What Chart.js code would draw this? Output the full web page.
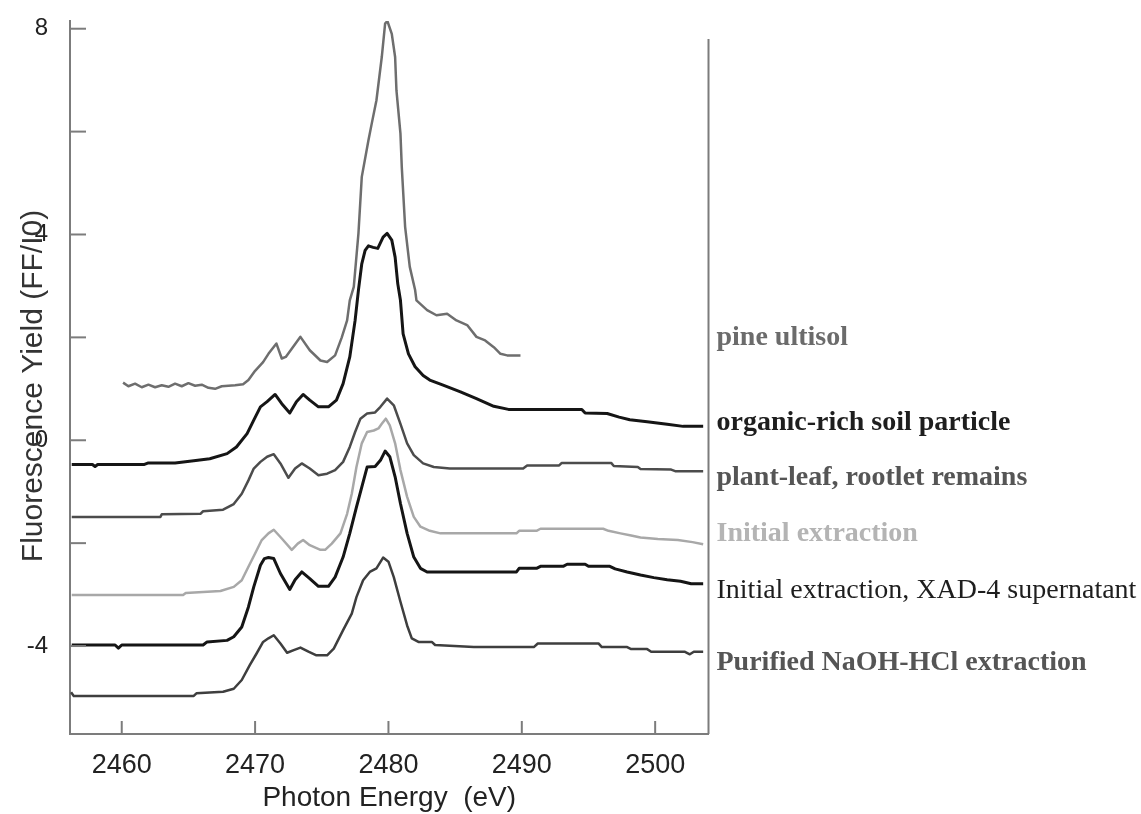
<!DOCTYPE html>
<html>
<head>
<meta charset="utf-8">
<script src="https://cdn.jsdelivr.net/npm/chart.js@4.4.1/dist/chart.umd.min.js"></script>
<style>
  body { margin: 0; background: #ffffff; overflow: hidden; }
  canvas { display: block; }
</style>
</head>
<body>
<canvas id="grafico" width="1141" height="814"></canvas>
<script>
// S K-edge XANES spectra, stacked
const seriesNames = [
  'pine ultisol',
  'organic-rich soil particle',
  'plant-leaf, rootlet remains',
  'Initial extraction',
  'Initial extraction, XAD-4 supernatant',
  'Purified NaOH-HCl extraction'
];

const pineE = [2460.1, 2460.5, 2461.0, 2461.5, 2462.0, 2462.5, 2463.0, 2463.5, 2464.0, 2464.5, 2465.0, 2465.5, 2466.0, 2466.5, 2467.0, 2467.5, 2468.0, 2468.5, 2469.1, 2469.5, 2470.0, 2470.6, 2471.0, 2471.6, 2472.0, 2472.3, 2473.4, 2474.1, 2474.9, 2475.4, 2476.0, 2476.5, 2476.9, 2477.1, 2477.4, 2477.75, 2478.0, 2478.5, 2478.75, 2479.1, 2479.5, 2479.75, 2479.92, 2480.25, 2480.5, 2480.6, 2480.9, 2481.0, 2481.25, 2481.6, 2482.0, 2482.1, 2482.9, 2483.6, 2484.4, 2485.1, 2485.9, 2486.6, 2487.25, 2487.9, 2488.4, 2488.9, 2489.9];
const pineY = [1.12, 1.05, 1.10, 1.03, 1.08, 1.03, 1.07, 1.04, 1.10, 1.05, 1.11, 1.06, 1.08, 1.02, 1.00, 1.05, 1.06, 1.07, 1.09, 1.17, 1.35, 1.52, 1.68, 1.88, 1.59, 1.62, 2.01, 1.75, 1.55, 1.52, 1.65, 2.00, 2.33, 2.72, 2.98, 4.02, 5.12, 5.83, 6.16, 6.61, 7.45, 8.10, 8.15, 7.90, 7.45, 6.80, 5.96, 5.31, 4.15, 3.37, 2.92, 2.72, 2.53, 2.43, 2.46, 2.33, 2.24, 2.01, 1.94, 1.81, 1.68, 1.65, 1.65];

const organicE = [2456.25, 2457.8, 2458.0, 2458.2, 2461.7, 2462.0, 2464.0, 2465.4, 2466.6, 2467.9, 2468.6, 2469.4, 2469.9, 2470.4, 2470.9, 2471.5, 2472.0, 2472.6, 2473.1, 2473.6, 2474.1, 2474.75, 2475.5, 2476.1, 2476.6, 2477.1, 2477.5, 2477.75, 2478.0, 2478.25, 2478.5, 2478.85, 2479.2, 2479.6, 2479.9, 2480.25, 2480.5, 2480.7, 2480.9, 2481.1, 2481.5, 2482.0, 2482.6, 2483.1, 2484.1, 2485.4, 2486.6, 2487.9, 2489.0, 2494.5, 2494.75, 2496.4, 2497.3, 2498.1, 2499.4, 2500.9, 2502.1, 2503.6];
const organicY = [-0.47, -0.47, -0.51, -0.47, -0.47, -0.44, -0.44, -0.40, -0.36, -0.26, -0.13, 0.13, 0.39, 0.65, 0.75, 0.89, 0.71, 0.53, 0.75, 0.89, 0.78, 0.65, 0.65, 0.78, 1.10, 1.62, 2.33, 2.92, 3.43, 3.69, 3.78, 3.75, 3.73, 3.95, 4.02, 3.89, 3.56, 3.04, 2.72, 2.07, 1.68, 1.43, 1.26, 1.17, 1.07, 0.94, 0.81, 0.66, 0.60, 0.60, 0.53, 0.52, 0.45, 0.40, 0.36, 0.31, 0.27, 0.27];

const plantE = [2456.25, 2462.9, 2463.0, 2465.9, 2466.1, 2467.6, 2468.4, 2469.0, 2469.5, 2469.9, 2470.4, 2470.9, 2471.4, 2471.9, 2472.5, 2473.0, 2473.5, 2474.1, 2474.75, 2475.4, 2476.0, 2476.6, 2477.1, 2477.5, 2477.9, 2478.4, 2479.0, 2479.4, 2479.9, 2480.4, 2480.9, 2481.4, 2481.9, 2482.6, 2483.4, 2484.6, 2490.1, 2490.4, 2492.8, 2493.0, 2496.7, 2496.9, 2498.7, 2498.9, 2501.2, 2501.5, 2503.6];
const plantY = [-1.49, -1.49, -1.44, -1.43, -1.38, -1.35, -1.24, -1.04, -0.78, -0.55, -0.42, -0.32, -0.27, -0.45, -0.73, -0.55, -0.45, -0.55, -0.68, -0.65, -0.58, -0.42, -0.13, 0.16, 0.42, 0.52, 0.54, 0.65, 0.81, 0.68, 0.32, -0.06, -0.29, -0.45, -0.52, -0.55, -0.55, -0.49, -0.49, -0.44, -0.44, -0.50, -0.52, -0.56, -0.57, -0.60, -0.60];

const initialE = [2456.25, 2464.6, 2464.8, 2467.4, 2468.4, 2469.0, 2469.5, 2470.0, 2470.5, 2471.0, 2471.4, 2472.0, 2472.75, 2473.2, 2473.6, 2474.1, 2474.9, 2475.25, 2475.75, 2476.4, 2476.9, 2477.25, 2477.6, 2478.0, 2478.4, 2478.9, 2479.25, 2479.5, 2479.8, 2480.1, 2480.5, 2480.9, 2481.4, 2481.9, 2482.4, 2483.1, 2483.9, 2489.6, 2489.8, 2491.1, 2491.4, 2496.1, 2496.5, 2497.4, 2498.2, 2498.9, 2500.2, 2501.7, 2502.8, 2503.6];
const initialY = [-3.01, -3.01, -2.97, -2.93, -2.85, -2.72, -2.46, -2.20, -1.94, -1.81, -1.74, -1.91, -2.13, -2.01, -1.94, -2.04, -2.13, -2.13, -2.01, -1.81, -1.43, -1.04, -0.52, -0.06, 0.16, 0.19, 0.23, 0.32, 0.42, 0.29, -0.06, -0.58, -1.10, -1.49, -1.68, -1.76, -1.81, -1.81, -1.76, -1.76, -1.72, -1.72, -1.76, -1.81, -1.85, -1.89, -1.92, -1.94, -1.98, -2.02];

const xadE = [2456.25, 2459.5, 2459.75, 2460.0, 2466.1, 2466.4, 2467.9, 2468.4, 2469.0, 2469.5, 2469.9, 2470.4, 2470.7, 2471.0, 2471.4, 2471.9, 2472.6, 2473.0, 2473.5, 2474.1, 2474.75, 2475.5, 2476.0, 2476.6, 2477.1, 2477.6, 2478.0, 2478.4, 2479.0, 2479.4, 2479.75, 2480.1, 2480.5, 2480.9, 2481.4, 2481.9, 2482.4, 2482.9, 2489.6, 2489.8, 2491.1, 2491.4, 2493.1, 2493.4, 2494.75, 2495.0, 2496.6, 2497.0, 2497.9, 2498.9, 2499.9, 2500.9, 2501.9, 2502.7, 2503.6];
const xadY = [-3.98, -3.98, -4.04, -3.98, -3.98, -3.92, -3.89, -3.82, -3.63, -3.24, -2.85, -2.43, -2.30, -2.28, -2.30, -2.59, -2.90, -2.71, -2.56, -2.69, -2.84, -2.84, -2.66, -2.27, -1.81, -1.30, -0.91, -0.52, -0.51, -0.39, -0.21, -0.32, -0.71, -1.23, -1.81, -2.27, -2.49, -2.56, -2.56, -2.49, -2.49, -2.45, -2.45, -2.41, -2.41, -2.45, -2.45, -2.50, -2.56, -2.62, -2.67, -2.71, -2.74, -2.79, -2.79];

const purifiedE = [2456.2, 2456.4, 2465.4, 2465.6, 2467.6, 2468.4, 2469.0, 2469.6, 2470.1, 2470.6, 2471.0, 2471.4, 2471.9, 2472.4, 2472.9, 2473.4, 2474.0, 2474.6, 2475.4, 2475.9, 2476.6, 2477.25, 2477.6, 2478.1, 2478.6, 2479.1, 2479.6, 2480.0, 2480.4, 2480.9, 2481.4, 2481.75, 2482.25, 2483.25, 2483.5, 2486.4, 2490.9, 2491.2, 2495.75, 2496.0, 2497.9, 2498.2, 2499.4, 2499.7, 2502.2, 2502.6, 2502.9, 2503.6];
const purifiedY = [-4.90, -4.97, -4.97, -4.92, -4.89, -4.83, -4.66, -4.37, -4.15, -3.92, -3.85, -3.79, -3.95, -4.13, -4.08, -4.03, -4.11, -4.18, -4.18, -4.05, -3.69, -3.37, -3.05, -2.72, -2.56, -2.49, -2.28, -2.36, -2.66, -3.14, -3.60, -3.85, -3.92, -3.92, -3.98, -4.02, -4.02, -3.95, -3.95, -4.02, -4.02, -4.06, -4.06, -4.11, -4.11, -4.16, -4.11, -4.11];

const xTicks = [2460, 2470, 2480, 2490, 2500];
const yTicks = [-4, -2, 0, 2, 4, 6, 8];
const yTickLabels = [8, 4, 0, -4];

// look of each curve and where its name sits (y in axis units)
const seriesStyle = [
  { color: '#6e6e6e', width: 2.5, text: '#6b6b6b', bold: true,  labelAt: 1.86 },
  { color: '#151515', width: 3,   text: '#1e1e1e', bold: true,  labelAt: 0.19 },
  { color: '#4c4c4c', width: 2.5, text: '#555555', bold: true,  labelAt: -0.87 },
  { color: '#a8a8a8', width: 2.5, text: '#b4b4b4', bold: true,  labelAt: -1.96 },
  { color: '#151515', width: 3,   text: '#1e1e1e', bold: false, labelAt: -3.07 },
  { color: '#3e3e3e', width: 2.5, text: '#555555', bold: true,  labelAt: -4.47 }
];

const axisColor = '#7c7c7c';
const seriesData = [[pineE, pineY], [organicE, organicY], [plantE, plantY], [initialE, initialY], [xadE, xadY], [purifiedE, purifiedY]];

const datasets = seriesData.map(([e, v], i) => ({
  label: seriesNames[i],
  data: e.map((x, k) => ({ x: x, y: v[k] })),
  borderColor: seriesStyle[i].color,
  borderWidth: seriesStyle[i].width,
  borderJoinStyle: 'round',
  pointRadius: 0,
  tension: 0,
  fill: false
}));

// inward ticks, right frame line, y title and the curve names
const extras = {
  id: 'extras',
  afterDraw(chart) {
    const { ctx, chartArea, scales } = chart;
    ctx.save();
    ctx.strokeStyle = axisColor;
    ctx.lineWidth = 2;

    ctx.beginPath();
    ctx.moveTo(chartArea.right, scales.y.getPixelForValue(7.8));
    ctx.lineTo(chartArea.right, chartArea.bottom);
    ctx.stroke();

    scales.y.ticks.forEach(t => {
      const py = scales.y.getPixelForValue(t.value);
      ctx.beginPath();
      ctx.moveTo(chartArea.left, py);
      ctx.lineTo(chartArea.left + 16, py);
      ctx.stroke();
    });
    scales.x.ticks.forEach(t => {
      const px = scales.x.getPixelForValue(t.value);
      ctx.beginPath();
      ctx.moveTo(px, chartArea.bottom);
      ctx.lineTo(px, chartArea.bottom - 13);
      ctx.stroke();
    });

    ctx.save();
    ctx.translate(42, 386);
    ctx.rotate(-Math.PI / 2);
    ctx.font = '30px "Liberation Sans", Arial, sans-serif';
    ctx.fillStyle = '#333333';
    ctx.textAlign = 'center';
    ctx.textBaseline = 'alphabetic';
    ctx.fillText('Fluorescence Yield (FF/I0)', 0, 0);
    ctx.restore();

    ctx.textAlign = 'left';
    ctx.textBaseline = 'alphabetic';
    seriesNames.forEach((name, i) => {
      const s = seriesStyle[i];
      ctx.font = (s.bold ? 'bold ' : '') + '28px "Liberation Serif", "Times New Roman", serif';
      ctx.fillStyle = s.text;
      ctx.fillText(name, chartArea.right + 8, scales.y.getPixelForValue(s.labelAt));
    });
    ctx.restore();
  }
};

const ctx = document.getElementById('grafico');

new Chart(ctx, {
  type: 'line',
  data: { datasets: datasets },
  options: {
    responsive: false,
    animation: false,
    layout: { padding: { top: 21, right: 432.5, left: 0, bottom: 0 } },
    plugins: { legend: { display: false }, tooltip: { enabled: false } },
    scales: {
      x: {
        type: 'linear',
        min: 2456.12,
        max: 2504.0,
        afterFit: scale => { scale.height = 80; scale.paddingLeft = 0; scale.paddingRight = 0; },
        afterBuildTicks: scale => { scale.ticks = xTicks.map(v => ({ value: v })); },
        grid: { display: false },
        border: { display: true, color: axisColor, width: 2 },
        ticks: {
          padding: 7,
          color: '#222222',
          font: { family: '"Liberation Sans", Arial, sans-serif', size: 27 },
          callback: v => String(v)
        },
        title: {
          display: true,
          text: 'Photon Energy  (eV)',
          color: '#222222',
          font: { family: '"Liberation Sans", Arial, sans-serif', size: 28, lineHeight: 1 },
          padding: { top: 0, bottom: 2 }
        }
      },
      y: {
        type: 'linear',
        min: -5.71,
        max: 8.15,
        afterFit: scale => { scale.width = 70; scale.paddingTop = 0; scale.paddingBottom = 0; },
        afterBuildTicks: scale => { scale.ticks = yTicks.map(v => ({ value: v })); },
        grid: { display: false },
        border: { display: true, color: axisColor, width: 2 },
        ticks: {
          padding: 14,
          color: '#222222',
          font: { family: '"Liberation Sans", Arial, sans-serif', size: 24 },
          callback: v => yTickLabels.includes(v) ? String(v) : ''
        }
      }
    }
  },
  plugins: [extras]
});
</script>
</body>
</html>
